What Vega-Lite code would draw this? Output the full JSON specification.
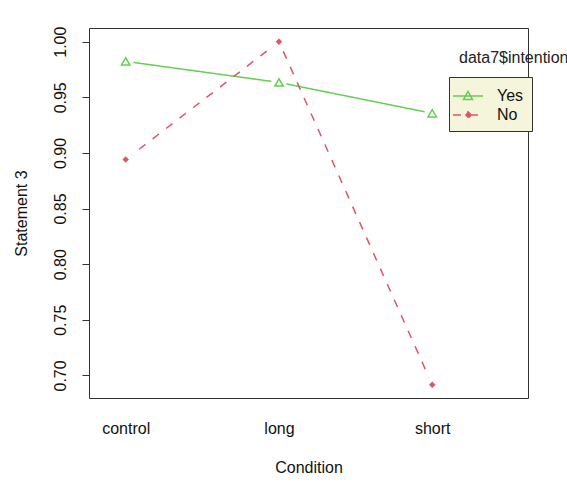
{
  "$schema": "https://vega.github.io/schema/vega-lite/v6.json",
  "width": 439,
  "height": 370,
  "autosize": "none",
  "padding": {"left": 89, "top": 28, "right": 39, "bottom": 92},
  "background": "white",
  "config": {
    "font": "Liberation Sans",
    "view": {"stroke": "#333333", "strokeWidth": 1}
  },
  "title": {
    "text": "data7$intention",
    "anchor": "start",
    "frame": "group",
    "dx": 370,
    "dy": 40,
    "offset": 0,
    "fontSize": 16,
    "fontWeight": "normal",
    "color": "#222222",
    "font": "Liberation Sans"
  },
  "data": {
    "values": [
      {"condition": "control", "intention": "Yes", "value": 0.9823},
      {"condition": "long", "intention": "Yes", "value": 0.9634},
      {"condition": "short", "intention": "Yes", "value": 0.9356},
      {"condition": "control", "intention": "No", "value": 0.894},
      {"condition": "long", "intention": "No", "value": 1.0},
      {"condition": "short", "intention": "No", "value": 0.6916}
    ]
  },
  "encoding": {
    "x": {
      "field": "condition",
      "type": "nominal",
      "sort": ["control", "long", "short"],
      "scale": {"type": "point", "domain": ["control", "long", "short"], "padding": 0.432, "align": 0.277},
      "axis": {
        "title": "Condition",
        "ticks": false,
        "domain": false,
        "grid": false,
        "labelAngle": 0,
        "labelFontSize": 16,
        "labelColor": "#111111",
        "labelPadding": 22,
        "titleFontSize": 16,
        "titleFontWeight": "normal",
        "titleColor": "#111111",
        "titlePadding": 23
      }
    },
    "y": {
      "field": "value",
      "type": "quantitative",
      "scale": {"domain": [0.6797, 1.0123], "nice": false, "zero": false},
      "axis": {
        "title": "Statement 3",
        "values": [0.7, 0.75, 0.8, 0.85, 0.9, 0.95, 1.0],
        "format": ".2f",
        "grid": false,
        "domain": false,
        "tickSize": 7,
        "tickColor": "#333333",
        "labelAngle": -90,
        "labelAlign": "center",
        "labelBaseline": "alphabetic",
        "labelPadding": 17,
        "labelFontSize": 16,
        "labelColor": "#111111",
        "titleFontSize": 16,
        "titleFontWeight": "normal",
        "titleColor": "#111111",
        "titlePadding": 23
      }
    }
  },
  "layer": [
    {
      "mark": {"type": "line", "strokeWidth": 1.5},
      "encoding": {
        "color": {
          "field": "intention",
          "type": "nominal",
          "scale": {"domain": ["Yes", "No"], "range": ["#61D04F", "#DF536B"]},
          "legend": {
            "orient": "none",
            "legendX": 360,
            "legendY": 49,
            "title": null,
            "fillColor": "#F5F5DC",
            "strokeColor": "#333333",
            "padding": 8,
            "symbolSize": 400,
            "symbolStrokeWidth": 1.5,
            "labelFontSize": 16,
            "labelColor": "#111111",
            "labelOffset": 18,
            "rowPadding": 0,
            "encode": {
              "symbols": {
                "update": {
                  "shape": {"signal": "datum.value === 'Yes' ? 'M-1.5,0H1.5M-0.45,0.35L0,-0.45L0.45,0.35Z' : 'M-1.5,0H1.5M0,-0.32L0.32,0L0,0.32L-0.32,0Z'"},
                  "fill": {"signal": "datum.value === 'Yes' ? 'transparent' : '#DF536B'"},
                  "strokeDash": {"signal": "datum.value === 'Yes' ? [1,0] : [4,3]"}
                }
              }
            }
          }
        },
        "strokeDash": {
          "field": "intention",
          "type": "nominal",
          "scale": {"domain": ["Yes", "No"], "range": [[1, 0], [8, 9]]},
          "legend": null
        }
      }
    },
    {
      "mark": {"type": "circle", "color": "white", "opacity": 1, "size": 250},
      "encoding": {}
    },
    {
      "transform": [{"filter": "datum.intention === 'Yes'"}],
      "mark": {"type": "point", "shape": "triangle-up", "filled": false, "color": "#61D04F", "strokeWidth": 1.5, "size": 70, "opacity": 1},
      "encoding": {}
    },
    {
      "transform": [{"filter": "datum.intention === 'No'"}],
      "mark": {"type": "point", "shape": "diamond", "filled": true, "color": "#DF536B", "size": 42, "opacity": 1},
      "encoding": {}
    }
  ]
}
